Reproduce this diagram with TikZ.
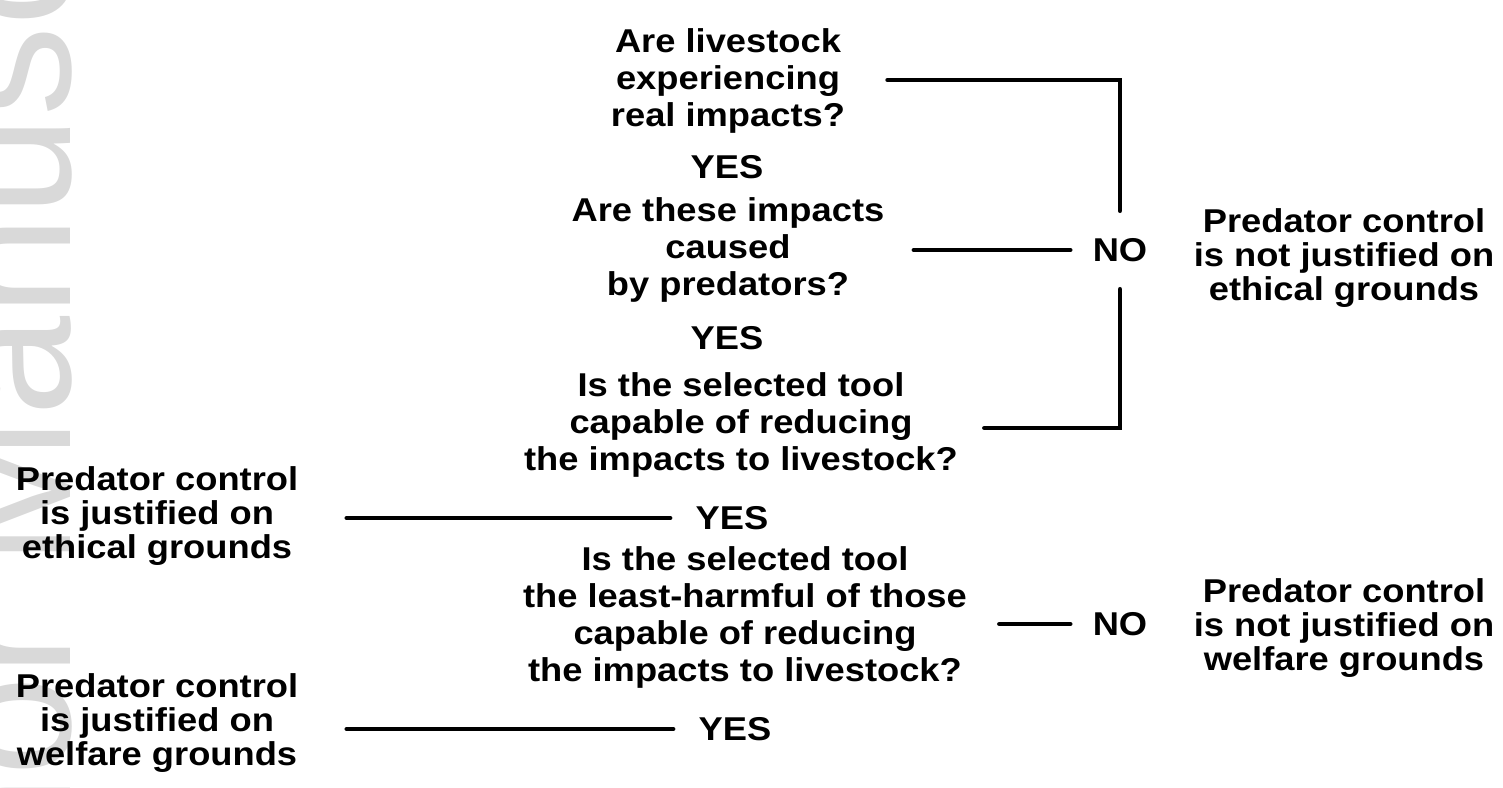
\documentclass[tikz,border=0pt]{standalone}
\usepackage{fontspec}
\setmainfont{Liberation Sans}[FakeStretch=1.10]
\newfontfamily\wmfont{Liberation Sans}
\usetikzlibrary{positioning}

\tikzset{
quest/.style = {font={\fontsize{9.39pt}{10.53pt}\selectfont\bfseries}, align=center, inner sep=0pt},
verdict/.style = {font={\fontsize{9.39pt}{9.7pt}\selectfont\bfseries}, align=center, inner sep=0pt},
reply/.style = {font={\fontsize{9.39pt}{10.53pt}\selectfont\bfseries}, inner ysep=0pt, inner xsep=2.5mm},
link/.style = {line width=1.4pt, line cap=round}
}

\begin{document}
\begin{tikzpicture}
\useasboundingbox (0,0) rectangle (15.03,-7.87);

% watermark
\begin{scope}
\clip (0,0) rectangle (15.03,-7.87);
\node (wm) [rotate=90, anchor=base west, inner sep=0pt, text=black!15, font={\wmfont\fontsize{51.2pt}{60pt}\selectfont}] at (0.70,-5.67) {\llap{Author }Manuscript};
\end{scope}

\node (q1) [quest] at (7.28,-0.81) {Are livestock\\experiencing\\real impacts?};
\node (y1) [reply] at (7.27,-1.67) {YES};
\node (q2) [quest] at (7.28,-2.50) {Are these impacts\\caused\\by predators?};
\node (y2) [reply] at (7.27,-3.38) {YES};
\node (q3) [quest] at (7.41,-4.25) {Is the selected tool\\capable of reducing\\the impacts to livestock?};
\node (y3) [reply] at (7.32,-5.18) {YES};
\node (q4) [quest] at (7.45,-6.17) {Is the selected tool\\the least-harmful of those\\capable of reducing\\the impacts to livestock?};
\node (y4) [reply] at (7.35,-7.29) {YES};

\node (no1) [reply, inner xsep=2.2mm, inner ysep=2.7mm] at (11.20,-2.50) {NO};
\node (no2) [reply, inner xsep=2.2mm, inner ysep=2.7mm] at (11.20,-6.24) {NO};

\node (r1) [verdict] at (13.44,-2.58) {Predator control\\is not justified on\\ethical grounds};
\node (r2) [verdict] at (13.44,-6.28) {Predator control\\is not justified on\\welfare grounds};
\node (l1) [verdict] at (1.57,-5.16) {Predator control\\is justified on\\ethical grounds};
\node (l2) [verdict] at (1.57,-7.23) {Predator control\\is justified on\\welfare grounds};

%
\coordinate (q3r) at ([xshift=2.6mm, yshift=-0.3mm]q3.east);
\coordinate (q4r) at ([xshift=3.2mm]q4.east);
\coordinate (l1r) at ([xshift=4.8mm]l1.east);
\coordinate (l2r) at ([xshift=4.8mm]l2.east);

\draw[link] ([xshift=4.2mm, yshift=0.1mm]q1.east) -| (no1.north);
\draw[link] ([xshift=2.9mm]q2.east) -- (no1.west);
\draw[link] (q3r) -| (no1.south);
\draw[link] (q4r |- no2) -- (no2.west);

\draw[link] (l1r |- y3) -- (y3.west);
\draw[link] (l2r |- y4) -- (y4.west);

\end{tikzpicture}
\end{document}
